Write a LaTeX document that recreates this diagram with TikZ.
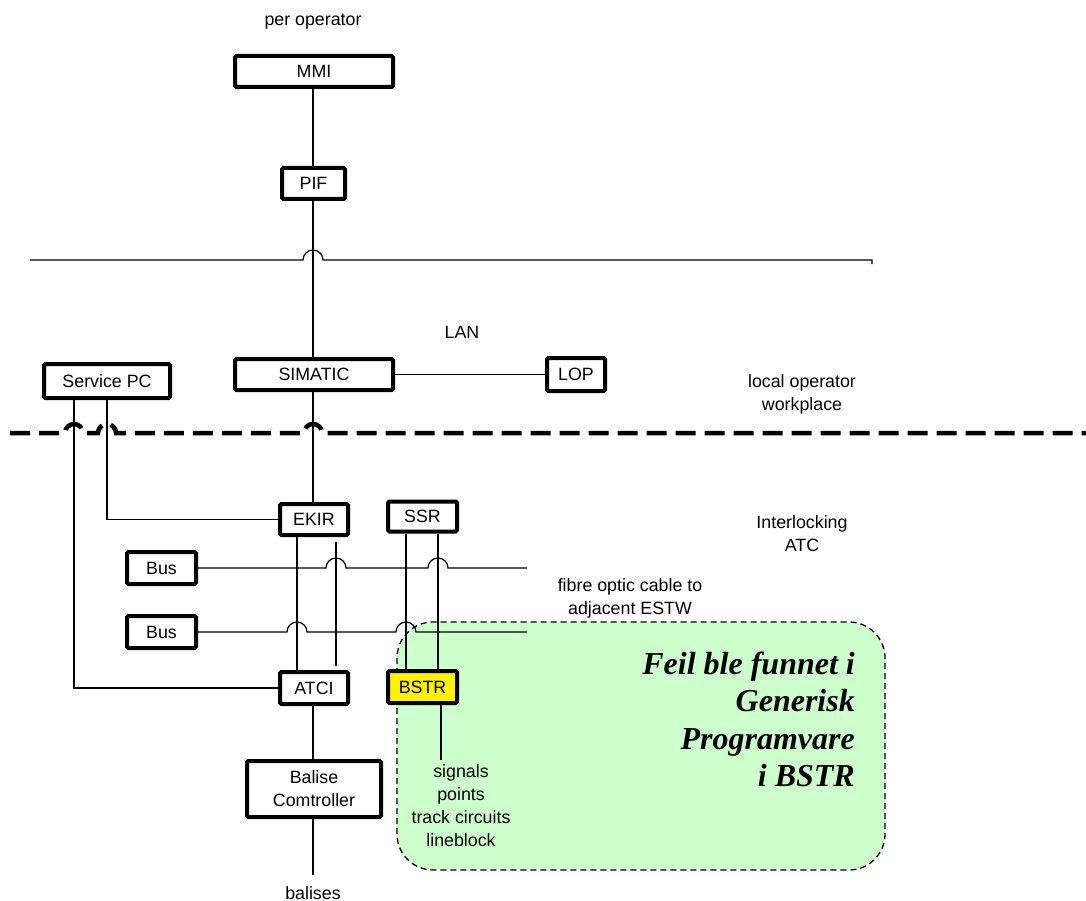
\documentclass[tikz,border=0pt]{standalone}
\usepackage{fontspec}
\setmainfont{Liberation Sans}
\newfontfamily\notefont{Liberation Serif}
\begin{document}
\begin{tikzpicture}[x=1pt,y=-1pt,
  lab/.style={font=\fontsize{17.8}{23}\selectfont, inner sep=0pt, align=center},
  box/.style={draw, line width=4pt, rounded corners=1.5pt, fill=white, inner sep=0pt,
    font=\fontsize{17.8}{23}\selectfont, align=center},
  conn/.style={line width=1.2pt}]
\useasboundingbox (0,0) rectangle (1086,901);

% green comment area
\draw[fill={rgb,255:red,204;green,255;blue,204}, line width=1.3pt, dash pattern=on 6pt off 4pt, rounded corners=36pt]
  (397,622) rectangle (885,870);

% nodes
\node[box, minimum width=158pt, minimum height=31pt] (MMI) at (314,71.5) {MMI};
\node[box, minimum width=63pt, minimum height=31pt] (PIF) at (313.5,183.5) {PIF};
\node[box, minimum width=158pt, minimum height=31pt] (SIM) at (314,374.5) {SIMATIC};
\node[box, minimum width=58pt, minimum height=33pt] (LOP) at (576,374.5) {LOP};
\node[box, minimum width=126pt, minimum height=34pt] (SPC) at (107,381) {Service PC};
\node[box, minimum width=68pt, minimum height=31pt] (EKIR) at (314,519.5) {EKIR};
\node[box, minimum width=69pt, minimum height=30pt] (SSR) at (422.5,516.5) {SSR};
\node[box, minimum width=69pt, minimum height=32pt] (Bus1) at (161.5,568) {Bus};
\node[box, minimum width=69pt, minimum height=32pt] (Bus2) at (161.5,632) {Bus};
\node[box, minimum width=68pt, minimum height=32pt] (ATCI) at (314,688) {ATCI};
\node[box, fill=yellow, minimum width=69pt, minimum height=32pt] (BSTR) at (422.5,687) {BSTR};
\node[box, minimum width=134pt, minimum height=56pt] (BAL) at (314,789) {Balise\\Comtroller};

% helper coordinates
\coordinate (c74) at (74,0);
\coordinate (c107) at (107,0);
\coordinate (c297) at (297,0);
\coordinate (c313) at (313,0);
\coordinate (c336) at (336,0);
\coordinate (c406) at (406,0);
\coordinate (c438) at (438,0);
\coordinate (c441) at (441,0);
\coordinate (bstrend) at (441,760);
\coordinate (balend) at (313,875);
\coordinate (lanL) at (30,260);
\coordinate (lanR) at (872,260);

% vertical connectors
\draw[conn] (MMI.south -| c313) -- (PIF.north -| c313);
\draw[conn] (PIF.south -| c313) -- (SIM.north -| c313);
\draw[conn] (SIM.south -| c313) -- (EKIR.north -| c313);
\draw[conn] (SIM.east |- LOP.west) -- (LOP.west);
\draw[conn] (SPC.south -| c74) -- (ATCI.west -| c74) -- (ATCI.west);
\draw[conn] (SPC.south -| c107) -- (EKIR.west -| c107) -- (EKIR.west);
\draw[conn] (EKIR.south -| c297) -- (ATCI.north -| c297);
\draw[conn, shorten <=5pt, shorten >=4pt] (EKIR.south -| c336) -- (ATCI.north -| c336);
\draw[conn] (SSR.south -| c406) -- (BSTR.north -| c406);
\draw[conn] (SSR.south -| c438) -- (BSTR.north -| c438);
\draw[conn] (BSTR.south -| c441) -- (bstrend);
\draw[conn] (ATCI.south -| c313) -- (BAL.north -| c313);
\draw[conn] (BAL.south -| c313) -- (balend);

% LAN line with hop
\draw[conn] (lanL) -- (303,260) arc[start angle=180, end angle=0, radius=10pt] -- (lanR) -- (872,264);

% bus lines with hops
\draw[conn] (Bus1.east) -- (326,568) arc[start angle=180, end angle=0, radius=10pt]
  -- (428,568) arc[start angle=180, end angle=0, radius=10pt] -- (527,568);
\draw[conn] (Bus2.east) -- (287,632) arc[start angle=180, end angle=0, radius=10pt]
  -- (396,632) arc[start angle=180, end angle=0, radius=10pt] -- (527,632);

% dashed boundary with hops
\draw[line width=4.5pt, dash pattern=on 20pt off 9pt]
  (10,433) -- (65,433) arc[start angle=180, end angle=0, radius=9pt]
  -- (98,433) arc[start angle=180, end angle=0, radius=9pt]
  -- (304,433) arc[start angle=180, end angle=0, radius=9pt] -- (1086,433);

% texts
\node[lab] (tper) at (313,22) {per operator};
\node[lab] (tlan) at (462,332) {LAN};
\node[lab] (tlocal) at (802,394.5) {local operator\\workplace};
\node[lab] (tinter) at (802,534) {Interlocking\\ATC};
\node[lab] (tfibre) at (630,598.5) {fibre optic cable to\\adjacent ESTW};
\node[lab] (tsig) at (461,806) {signals\\points\\track circuits\\lineblock};
\node[lab] (tbal) at (313,893) {balises};
\node[inner sep=0pt, align=right, anchor=east, font=\notefont\bfseries\itshape\fontsize{32}{37.5}\selectfont] (note) at (855,719.5)
  {Feil ble funnet i\\Generisk\\Programvare\\i BSTR};
\end{tikzpicture}
\end{document}
